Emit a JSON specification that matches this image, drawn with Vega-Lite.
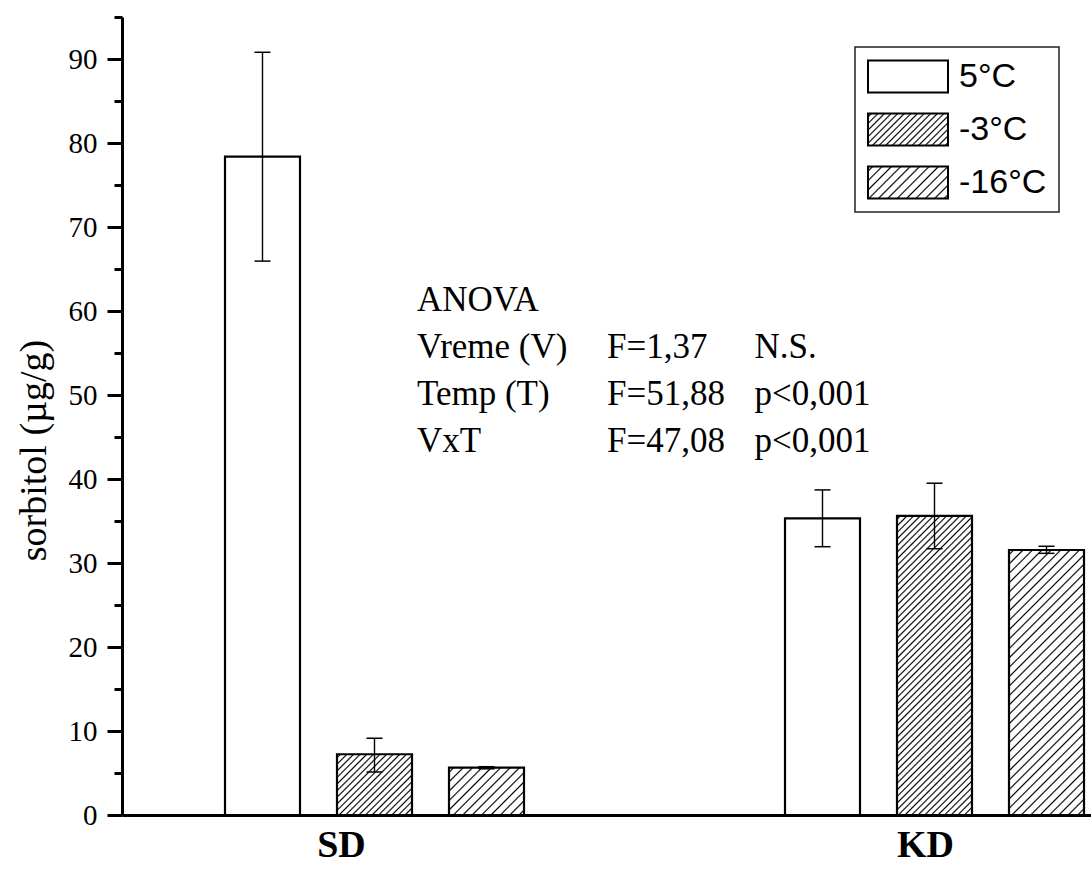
{
  "$schema": "https://vega.github.io/schema/vega-lite/v6.json",
  "width": 969,
  "height": 798,
  "autosize": {"type": "none"},
  "padding": {"left": 122, "top": 17, "right": 0, "bottom": 77},
  "background": "white",
  "config": {
    "view": {"stroke": null},
    "legend": {"strokeColor": "#222222", "strokeWidth": 1.5, "fillColor": "white", "padding": 12, "cornerRadius": 0}
  },
  "params": [
    {"name": "h3", "value": [
      {"offset":0.0048,"color":"#fff"},{"offset":0.009,"color":"#000"},{"offset":0.0132,"color":"#fff"},
      {"offset":0.0223,"color":"#fff"},{"offset":0.0265,"color":"#000"},{"offset":0.0307,"color":"#fff"},
      {"offset":0.0398,"color":"#fff"},{"offset":0.044,"color":"#000"},{"offset":0.0482,"color":"#fff"},
      {"offset":0.0573,"color":"#fff"},{"offset":0.0615,"color":"#000"},{"offset":0.0657,"color":"#fff"},
      {"offset":0.0748,"color":"#fff"},{"offset":0.079,"color":"#000"},{"offset":0.0832,"color":"#fff"},
      {"offset":0.0923,"color":"#fff"},{"offset":0.0965,"color":"#000"},{"offset":0.1007,"color":"#fff"},
      {"offset":0.1098,"color":"#fff"},{"offset":0.114,"color":"#000"},{"offset":0.1182,"color":"#fff"},
      {"offset":0.1273,"color":"#fff"},{"offset":0.1315,"color":"#000"},{"offset":0.1357,"color":"#fff"},
      {"offset":0.1448,"color":"#fff"},{"offset":0.149,"color":"#000"},{"offset":0.1532,"color":"#fff"},
      {"offset":0.1623,"color":"#fff"},{"offset":0.1665,"color":"#000"},{"offset":0.1707,"color":"#fff"},
      {"offset":0.1798,"color":"#fff"},{"offset":0.184,"color":"#000"},{"offset":0.1882,"color":"#fff"},
      {"offset":0.1973,"color":"#fff"},{"offset":0.2015,"color":"#000"},{"offset":0.2057,"color":"#fff"},
      {"offset":0.2148,"color":"#fff"},{"offset":0.219,"color":"#000"},{"offset":0.2232,"color":"#fff"},
      {"offset":0.2323,"color":"#fff"},{"offset":0.2365,"color":"#000"},{"offset":0.2407,"color":"#fff"},
      {"offset":0.2498,"color":"#fff"},{"offset":0.254,"color":"#000"},{"offset":0.2582,"color":"#fff"},
      {"offset":0.2673,"color":"#fff"},{"offset":0.2715,"color":"#000"},{"offset":0.2757,"color":"#fff"},
      {"offset":0.2848,"color":"#fff"},{"offset":0.289,"color":"#000"},{"offset":0.2932,"color":"#fff"},
      {"offset":0.3023,"color":"#fff"},{"offset":0.3065,"color":"#000"},{"offset":0.3107,"color":"#fff"},
      {"offset":0.3198,"color":"#fff"},{"offset":0.324,"color":"#000"},{"offset":0.3282,"color":"#fff"},
      {"offset":0.3373,"color":"#fff"},{"offset":0.3415,"color":"#000"},{"offset":0.3457,"color":"#fff"},
      {"offset":0.3548,"color":"#fff"},{"offset":0.359,"color":"#000"},{"offset":0.3632,"color":"#fff"},
      {"offset":0.3723,"color":"#fff"},{"offset":0.3765,"color":"#000"},{"offset":0.3807,"color":"#fff"},
      {"offset":0.3898,"color":"#fff"},{"offset":0.394,"color":"#000"},{"offset":0.3982,"color":"#fff"},
      {"offset":0.4073,"color":"#fff"},{"offset":0.4115,"color":"#000"},{"offset":0.4157,"color":"#fff"},
      {"offset":0.4248,"color":"#fff"},{"offset":0.429,"color":"#000"},{"offset":0.4332,"color":"#fff"},
      {"offset":0.4423,"color":"#fff"},{"offset":0.4465,"color":"#000"},{"offset":0.4507,"color":"#fff"},
      {"offset":0.4598,"color":"#fff"},{"offset":0.464,"color":"#000"},{"offset":0.4682,"color":"#fff"},
      {"offset":0.4773,"color":"#fff"},{"offset":0.4815,"color":"#000"},{"offset":0.4857,"color":"#fff"},
      {"offset":0.4948,"color":"#fff"},{"offset":0.499,"color":"#000"},{"offset":0.5032,"color":"#fff"},
      {"offset":0.5123,"color":"#fff"},{"offset":0.5165,"color":"#000"},{"offset":0.5207,"color":"#fff"},
      {"offset":0.5298,"color":"#fff"},{"offset":0.534,"color":"#000"},{"offset":0.5382,"color":"#fff"},
      {"offset":0.5473,"color":"#fff"},{"offset":0.5515,"color":"#000"},{"offset":0.5557,"color":"#fff"},
      {"offset":0.5648,"color":"#fff"},{"offset":0.569,"color":"#000"},{"offset":0.5732,"color":"#fff"},
      {"offset":0.5823,"color":"#fff"},{"offset":0.5865,"color":"#000"},{"offset":0.5907,"color":"#fff"},
      {"offset":0.5998,"color":"#fff"},{"offset":0.604,"color":"#000"},{"offset":0.6082,"color":"#fff"},
      {"offset":0.6173,"color":"#fff"},{"offset":0.6215,"color":"#000"},{"offset":0.6257,"color":"#fff"},
      {"offset":0.6348,"color":"#fff"},{"offset":0.639,"color":"#000"},{"offset":0.6432,"color":"#fff"},
      {"offset":0.6523,"color":"#fff"},{"offset":0.6565,"color":"#000"},{"offset":0.6607,"color":"#fff"},
      {"offset":0.6698,"color":"#fff"},{"offset":0.674,"color":"#000"},{"offset":0.6782,"color":"#fff"},
      {"offset":0.6873,"color":"#fff"},{"offset":0.6915,"color":"#000"},{"offset":0.6957,"color":"#fff"},
      {"offset":0.7048,"color":"#fff"},{"offset":0.709,"color":"#000"},{"offset":0.7132,"color":"#fff"},
      {"offset":0.7223,"color":"#fff"},{"offset":0.7265,"color":"#000"},{"offset":0.7307,"color":"#fff"},
      {"offset":0.7398,"color":"#fff"},{"offset":0.744,"color":"#000"},{"offset":0.7482,"color":"#fff"},
      {"offset":0.7573,"color":"#fff"},{"offset":0.7615,"color":"#000"},{"offset":0.7657,"color":"#fff"},
      {"offset":0.7748,"color":"#fff"},{"offset":0.779,"color":"#000"},{"offset":0.7832,"color":"#fff"},
      {"offset":0.7923,"color":"#fff"},{"offset":0.7965,"color":"#000"},{"offset":0.8007,"color":"#fff"},
      {"offset":0.8098,"color":"#fff"},{"offset":0.814,"color":"#000"},{"offset":0.8182,"color":"#fff"},
      {"offset":0.8273,"color":"#fff"},{"offset":0.8315,"color":"#000"},{"offset":0.8357,"color":"#fff"},
      {"offset":0.8448,"color":"#fff"},{"offset":0.849,"color":"#000"},{"offset":0.8532,"color":"#fff"},
      {"offset":0.8623,"color":"#fff"},{"offset":0.8665,"color":"#000"},{"offset":0.8707,"color":"#fff"},
      {"offset":0.8798,"color":"#fff"},{"offset":0.884,"color":"#000"},{"offset":0.8882,"color":"#fff"},
      {"offset":0.8973,"color":"#fff"},{"offset":0.9015,"color":"#000"},{"offset":0.9057,"color":"#fff"},
      {"offset":0.9148,"color":"#fff"},{"offset":0.919,"color":"#000"},{"offset":0.9232,"color":"#fff"},
      {"offset":0.9323,"color":"#fff"},{"offset":0.9365,"color":"#000"},{"offset":0.9407,"color":"#fff"},
      {"offset":0.9498,"color":"#fff"},{"offset":0.954,"color":"#000"},{"offset":0.9582,"color":"#fff"},
      {"offset":0.9673,"color":"#fff"},{"offset":0.9715,"color":"#000"},{"offset":0.9757,"color":"#fff"},
      {"offset":0.9848,"color":"#fff"},{"offset":0.989,"color":"#000"},{"offset":0.9932,"color":"#fff"}
    ]},
    {"name": "h16", "value": [
      {"offset":0.0082,"color":"#fff"},{"offset":0.0125,"color":"#000"},{"offset":0.0168,"color":"#fff"},
      {"offset":0.0332,"color":"#fff"},{"offset":0.0375,"color":"#000"},{"offset":0.0418,"color":"#fff"},
      {"offset":0.0582,"color":"#fff"},{"offset":0.0625,"color":"#000"},{"offset":0.0668,"color":"#fff"},
      {"offset":0.0832,"color":"#fff"},{"offset":0.0875,"color":"#000"},{"offset":0.0918,"color":"#fff"},
      {"offset":0.1082,"color":"#fff"},{"offset":0.1125,"color":"#000"},{"offset":0.1168,"color":"#fff"},
      {"offset":0.1332,"color":"#fff"},{"offset":0.1375,"color":"#000"},{"offset":0.1418,"color":"#fff"},
      {"offset":0.1582,"color":"#fff"},{"offset":0.1625,"color":"#000"},{"offset":0.1668,"color":"#fff"},
      {"offset":0.1832,"color":"#fff"},{"offset":0.1875,"color":"#000"},{"offset":0.1918,"color":"#fff"},
      {"offset":0.2082,"color":"#fff"},{"offset":0.2125,"color":"#000"},{"offset":0.2168,"color":"#fff"},
      {"offset":0.2332,"color":"#fff"},{"offset":0.2375,"color":"#000"},{"offset":0.2418,"color":"#fff"},
      {"offset":0.2582,"color":"#fff"},{"offset":0.2625,"color":"#000"},{"offset":0.2668,"color":"#fff"},
      {"offset":0.2832,"color":"#fff"},{"offset":0.2875,"color":"#000"},{"offset":0.2918,"color":"#fff"},
      {"offset":0.3082,"color":"#fff"},{"offset":0.3125,"color":"#000"},{"offset":0.3168,"color":"#fff"},
      {"offset":0.3332,"color":"#fff"},{"offset":0.3375,"color":"#000"},{"offset":0.3418,"color":"#fff"},
      {"offset":0.3582,"color":"#fff"},{"offset":0.3625,"color":"#000"},{"offset":0.3668,"color":"#fff"},
      {"offset":0.3832,"color":"#fff"},{"offset":0.3875,"color":"#000"},{"offset":0.3918,"color":"#fff"},
      {"offset":0.4082,"color":"#fff"},{"offset":0.4125,"color":"#000"},{"offset":0.4168,"color":"#fff"},
      {"offset":0.4332,"color":"#fff"},{"offset":0.4375,"color":"#000"},{"offset":0.4418,"color":"#fff"},
      {"offset":0.4582,"color":"#fff"},{"offset":0.4625,"color":"#000"},{"offset":0.4668,"color":"#fff"},
      {"offset":0.4832,"color":"#fff"},{"offset":0.4875,"color":"#000"},{"offset":0.4918,"color":"#fff"},
      {"offset":0.5082,"color":"#fff"},{"offset":0.5125,"color":"#000"},{"offset":0.5168,"color":"#fff"},
      {"offset":0.5332,"color":"#fff"},{"offset":0.5375,"color":"#000"},{"offset":0.5418,"color":"#fff"},
      {"offset":0.5582,"color":"#fff"},{"offset":0.5625,"color":"#000"},{"offset":0.5668,"color":"#fff"},
      {"offset":0.5832,"color":"#fff"},{"offset":0.5875,"color":"#000"},{"offset":0.5918,"color":"#fff"},
      {"offset":0.6082,"color":"#fff"},{"offset":0.6125,"color":"#000"},{"offset":0.6168,"color":"#fff"},
      {"offset":0.6332,"color":"#fff"},{"offset":0.6375,"color":"#000"},{"offset":0.6418,"color":"#fff"},
      {"offset":0.6582,"color":"#fff"},{"offset":0.6625,"color":"#000"},{"offset":0.6668,"color":"#fff"},
      {"offset":0.6832,"color":"#fff"},{"offset":0.6875,"color":"#000"},{"offset":0.6918,"color":"#fff"},
      {"offset":0.7082,"color":"#fff"},{"offset":0.7125,"color":"#000"},{"offset":0.7168,"color":"#fff"},
      {"offset":0.7332,"color":"#fff"},{"offset":0.7375,"color":"#000"},{"offset":0.7418,"color":"#fff"},
      {"offset":0.7582,"color":"#fff"},{"offset":0.7625,"color":"#000"},{"offset":0.7668,"color":"#fff"},
      {"offset":0.7832,"color":"#fff"},{"offset":0.7875,"color":"#000"},{"offset":0.7918,"color":"#fff"},
      {"offset":0.8082,"color":"#fff"},{"offset":0.8125,"color":"#000"},{"offset":0.8168,"color":"#fff"},
      {"offset":0.8332,"color":"#fff"},{"offset":0.8375,"color":"#000"},{"offset":0.8418,"color":"#fff"},
      {"offset":0.8582,"color":"#fff"},{"offset":0.8625,"color":"#000"},{"offset":0.8668,"color":"#fff"},
      {"offset":0.8832,"color":"#fff"},{"offset":0.8875,"color":"#000"},{"offset":0.8918,"color":"#fff"},
      {"offset":0.9082,"color":"#fff"},{"offset":0.9125,"color":"#000"},{"offset":0.9168,"color":"#fff"},
      {"offset":0.9332,"color":"#fff"},{"offset":0.9375,"color":"#000"},{"offset":0.9418,"color":"#fff"},
      {"offset":0.9582,"color":"#fff"},{"offset":0.9625,"color":"#000"},{"offset":0.9668,"color":"#fff"},
      {"offset":0.9832,"color":"#fff"},{"offset":0.9875,"color":"#000"},{"offset":0.9918,"color":"#fff"}
    ]},
    {"name": "gSD3", "expr": "{gradient: 'linear', x1: 0, y1: 0, x2: 3.0372, y2: 2.4593, stops: h3}"},
    {"name": "gKD3", "expr": "{gradient: 'linear', x1: 0, y1: 0, x2: 0.29759, y2: 1.18654, stops: h3}"},
    {"name": "gL3", "expr": "{gradient: 'linear', x1: 0, y1: 0, x2: 4.064, y2: 1.6256, stops: h3}"},
    {"name": "gSD16", "expr": "{gradient: 'linear', x1: 0, y1: 0, x2: 3.5872, y2: 2.2618, stops: h16}"},
    {"name": "gKD16", "expr": "{gradient: 'linear', x1: 0, y1: 0, x2: 0.37173, y2: 1.31356, stops: h16}"},
    {"name": "gL16", "expr": "{gradient: 'linear', x1: 0, y1: 0, x2: 4.0517, y2: 1.6207, stops: h16}"}
  ],
  "data": {"values": [
    {"group": "SD", "temp": "5°C", "value": 78.37, "lo": 65.94, "hi": 90.8},
    {"group": "SD", "temp": "-3°C", "value": 7.23, "lo": 5.12, "hi": 9.13},
    {"group": "SD", "temp": "-16°C", "value": 5.63, "lo": 5.5, "hi": 5.75},
    {"group": "KD", "temp": "5°C", "value": 35.32, "lo": 31.94, "hi": 38.7},
    {"group": "KD", "temp": "-3°C", "value": 35.6, "lo": 31.7, "hi": 39.5},
    {"group": "KD", "temp": "-16°C", "value": 31.55, "lo": 31.15, "hi": 31.99}
  ]},
  "resolve": {"axis": {"y": "independent"}},
  "layer": [
    {
      "mark": {"type": "bar", "stroke": "black", "strokeWidth": 2.2, "opacity": 1},
      "encoding": {
        "x": {
          "field": "group", "type": "nominal",
          "scale": {"domain": ["SD", "KD"], "paddingInner": 0.44107, "paddingOuter": 0.085714, "align": 1},
          "axis": {
            "title": null, "ticks": false, "labelAngle": 0,
            "labelFont": "Liberation Serif", "labelFontSize": 38, "labelFontWeight": "bold", "labelColor": "black",
            "labelPadding": 30, "labelBaseline": "middle",
            "labelOffset": {"condition": {"test": "datum.value === 'SD'", "value": -33}, "value": -9},
            "domainColor": "black", "domainWidth": 3
          }
        },
        "xOffset": {
          "field": "temp", "type": "nominal",
          "scale": {"domain": ["5°C", "-3°C", "-16°C"], "paddingInner": 0.33036, "paddingOuter": 0.0625}
        },
        "y": {
          "field": "value", "type": "quantitative",
          "scale": {"domain": [0, 95], "nice": false},
          "axis": {
            "orient": "left",
            "values": [0, 10, 20, 30, 40, 50, 60, 70, 80, 90],
            "tickSize": 15, "tickWidth": 3, "tickColor": "black",
            "domainColor": "black", "domainWidth": 3, "grid": false,
            "labelFont": "Liberation Serif", "labelFontSize": 29, "labelColor": "black", "labelPadding": 10,
            "labelOverlap": false,
            "title": "sorbitol (µg/g)", "titleFont": "Liberation Serif", "titleFontSize": 38,
            "titleFontWeight": "normal", "titleColor": "black",
            "titleX": -88, "titleY": 433, "titleAngle": 270, "titleBaseline": "middle", "titleAlign": "center"
          }
        },
        "fill": {
          "field": "temp", "type": "nominal",
          "scale": {"domain": ["5°C", "-3°C", "-16°C"], "range": ["#ffffff", {"expr": "gL3"}, {"expr": "gL16"}]},
          "condition": [
            {"test": "datum.group === 'SD' && datum.temp === '-3°C'", "value": {"expr": "gSD3"}},
            {"test": "datum.group === 'KD' && datum.temp === '-3°C'", "value": {"expr": "gKD3"}},
            {"test": "datum.group === 'SD' && datum.temp === '-16°C'", "value": {"expr": "gSD16"}},
            {"test": "datum.group === 'KD' && datum.temp === '-16°C'", "value": {"expr": "gKD16"}}
          ],
          "legend": {
            "title": null, "orient": "none", "legendX": 733, "legendY": 30,
            "symbolType": "M-1,-0.4H1V0.4H-1Z", "symbolSize": 6400,
            "symbolStrokeColor": "black", "symbolStrokeWidth": 2, "symbolOpacity": 1,
            "labelFont": "Liberation Sans", "labelFontSize": 34, "labelColor": "black", "labelOffset": 10,
            "labelExpr": "datum.value === '5°C' ? '\u00a05°C' : datum.label",
            "rowPadding": 18, "clipHeight": 35
          }
        }
      }
    },
    {
      "mark": {"type": "rule", "color": "black", "strokeWidth": 1.4},
      "encoding": {
        "x": {"field": "group", "type": "nominal"},
        "xOffset": {"field": "temp", "type": "nominal"},
        "y": {
          "field": "lo", "type": "quantitative",
          "axis": {
            "orient": "left", "values": [5, 15, 25, 35, 45, 55, 65, 75, 85, 95],
            "tickSize": 8, "tickWidth": 3, "tickColor": "black",
            "labels": false, "domain": false, "grid": false, "title": null
          }
        },
        "y2": {"field": "hi"}
      }
    },
    {
      "mark": {"type": "tick", "color": "black", "size": 16, "thickness": 1.5, "opacity": 1},
      "encoding": {
        "x": {"field": "group", "type": "nominal"},
        "xOffset": {"field": "temp", "type": "nominal"},
        "y": {"field": "lo", "type": "quantitative", "axis": null}
      }
    },
    {
      "mark": {"type": "tick", "color": "black", "size": 16, "thickness": 1.5, "opacity": 1},
      "encoding": {
        "x": {"field": "group", "type": "nominal"},
        "xOffset": {"field": "temp", "type": "nominal"},
        "y": {"field": "hi", "type": "quantitative", "axis": null}
      }
    },
    {
      "data": {"values": [{"t": "ANOVA\nVreme (V)\nTemp (T)\nVxT"}]},
      "mark": {"type": "text", "align": "left", "baseline": "alphabetic", "dx": 42.5, "font": "Liberation Serif", "fontSize": 35, "color": "black", "lineBreak": "\n", "lineHeight": 47},
      "encoding": {
        "x": {"datum": "SD", "type": "nominal"},
        "y": {"datum": 60.0, "type": "quantitative", "axis": null},
        "text": {"field": "t"}
      }
    },
    {
      "data": {"values": [{"t": "\nF=1,37\nF=51,88\n\u00a0F=47,08"}]},
      "mark": {"type": "text", "align": "left", "baseline": "alphabetic", "dx": 232.5, "font": "Liberation Serif", "fontSize": 35, "color": "black", "lineBreak": "\n", "lineHeight": 47},
      "encoding": {
        "x": {"datum": "SD", "type": "nominal"},
        "y": {"datum": 60.0, "type": "quantitative", "axis": null},
        "text": {"field": "t"}
      }
    },
    {
      "data": {"values": [{"t": "\nN.S.\np<0,001\np<0,001"}]},
      "mark": {"type": "text", "align": "left", "baseline": "alphabetic", "dx": 380, "font": "Liberation Serif", "fontSize": 35, "color": "black", "lineBreak": "\n", "lineHeight": 47},
      "encoding": {
        "x": {"datum": "SD", "type": "nominal"},
        "y": {"datum": 60.0, "type": "quantitative", "axis": null},
        "text": {"field": "t"}
      }
    }
  ]
}
